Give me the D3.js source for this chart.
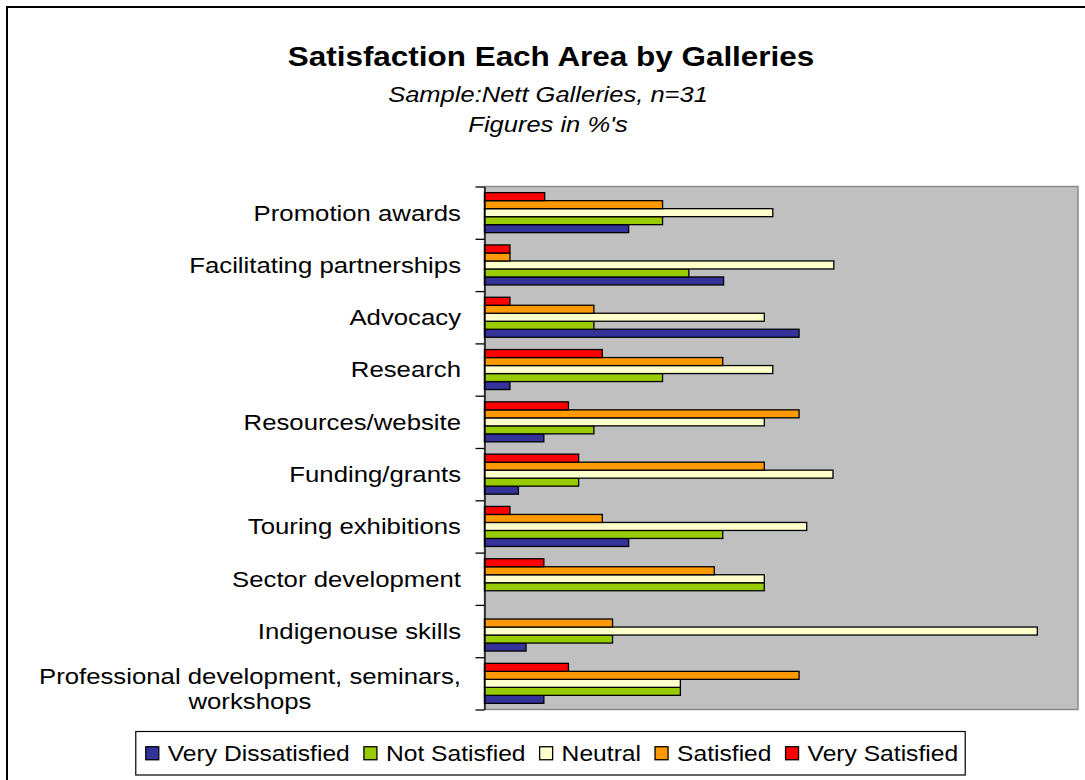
<!DOCTYPE html>
<html>
<head>
<meta charset="utf-8">
<script src="https://cdn.jsdelivr.net/npm/d3@7"></script>
<style>
  html, body { margin: 0; padding: 0; background: #fff; }
  svg { display: block; }
  text { font-family: "Liberation Sans", Arial, sans-serif; fill: #000; }
</style>
</head>
<body>
<svg id="chart" width="1085" height="780"></svg>
<script>
// Areas, listed top to bottom as they appear in the chart
const categories = [
  "Promotion awards",
  "Facilitating partnerships",
  "Advocacy",
  "Research",
  "Resources/website",
  "Funding/grants",
  "Touring exhibitions",
  "Sector development",
  "Indigenouse skills",
  "Professional development, seminars, workshops"
];

// Satisfaction levels (legend order)
const seriesNames = ["Very Dissatisfied", "Not Satisfied", "Neutral", "Satisfied", "Very Satisfied"];
const seriesColors = ["#333399", "#99CC00", "#FFFFCC", "#FF9900", "#FF0000"];

// Percent of galleries per area, one array per satisfaction level
const veryDissatisfied = [17.0, 28.2, 37.1, 3.0, 7.0, 4.0, 17.0, 0, 4.9, 7.0];
const notSatisfied     = [21.0, 24.1, 12.9, 21.0, 12.9, 11.1, 28.1, 33.0, 15.1, 23.1];
const neutral          = [34.0, 41.2, 33.0, 34.0, 33.0, 41.1, 38.0, 33.0, 65.2, 23.1];
const satisfied        = [21.0, 3.0, 12.9, 28.1, 37.1, 33.0, 13.9, 27.1, 15.1, 37.1];
const verySatisfied    = [7.1, 3.0, 3.0, 13.9, 9.9, 11.1, 3.0, 7.0, 0, 9.9];

const xMax = 70;

const title = "Satisfaction Each Area by Galleries";
const subtitleLines = ["Sample:Nett Galleries, n=31", "Figures in %'s"];

const seriesValues = [veryDissatisfied, notSatisfied, neutral, satisfied, verySatisfied];

const svg = d3.select("#chart");

// Chart frame
svg.append("rect")
  .attr("x", 7).attr("y", 7)
  .attr("width", 1090).attr("height", 790)
  .attr("fill", "#fff").attr("stroke", "#000").attr("stroke-width", 2);

// Plot area
const plot = { left: 484.5, right: 1078, top: 186.5, bottom: 709.5 };

svg.append("rect")
  .attr("x", plot.left).attr("y", plot.top)
  .attr("width", plot.right - plot.left).attr("height", plot.bottom - plot.top)
  .attr("fill", "#C0C0C0").attr("stroke", "#8a8a8a").attr("stroke-width", 1.5);

const x = d3.scaleLinear().domain([0, xMax]).range([plot.left, plot.right]);

const y0 = d3.scaleBand()
  .domain(categories)
  .range([plot.top, plot.bottom])
  .paddingInner(0.235)
  .paddingOuter(0.1175);

// Within a group the last series sits at the top
const y1 = d3.scaleBand()
  .domain(seriesNames.slice().reverse())
  .range([0, y0.bandwidth()]);

const color = d3.scaleOrdinal().domain(seriesNames).range(seriesColors);

// Bars
const rows = categories.map((c, i) => ({
  category: c,
  values: seriesNames.map((s, k) => ({ series: s, value: seriesValues[k][i] }))
}));

const groups = svg.append("g").selectAll("g")
  .data(rows)
  .join("g")
  .attr("transform", d => `translate(0,${y0(d.category)})`);

groups.selectAll("rect")
  .data(d => d.values.filter(v => v.value > 0))
  .join("rect")
  .attr("x", x(0))
  .attr("y", d => y1(d.series))
  .attr("width", d => x(d.value) - x(0))
  .attr("height", y1.bandwidth())
  .attr("fill", d => color(d.series))
  .attr("stroke", "#000")
  .attr("stroke-width", 1.3);

// Category axis: tick marks between groups
const tickScale = d3.scaleLinear().domain([0, categories.length]).range([plot.top, plot.bottom]);
const axis = svg.append("g")
  .attr("transform", `translate(${plot.left},0)`)
  .call(d3.axisLeft(tickScale)
    .tickValues(d3.range(categories.length + 1))
    .tickFormat("")
    .tickSize(9)
    .tickSizeOuter(0));
axis.selectAll("line, path").attr("stroke", "#000").attr("stroke-width", 1.3);

// Horizontally stretched text helper
function stretchedText(parent, tx, ty, str, opts) {
  const g = parent.append("g")
    .attr("transform", `translate(${tx},${ty}) scale(${opts.sx},1)`);
  const t = g.append("text")
    .attr("text-anchor", opts.anchor || "start")
    .style("font-size", opts.size + "px")
    .style("font-weight", opts.weight || "normal")
    .style("font-style", opts.style || "normal")
    .text(str);
  return t;
}

// Category labels
const labelSize = 22, labelSx = 1.17, labelMaxW = 440, lineH = 25;
const labelLayer = svg.append("g");
categories.forEach(c => {
  const cy = y0(c) + y0.bandwidth() / 2;
  // measure and wrap
  const probe = labelLayer.append("text").style("font-size", labelSize + "px");
  const words = c.split(" ");
  const lines = [];
  let cur = "";
  words.forEach(w => {
    const test = cur ? cur + " " + w : w;
    probe.text(test);
    if (probe.node().getComputedTextLength() * labelSx > labelMaxW && cur) {
      lines.push(cur);
      cur = w;
    } else {
      cur = test;
    }
  });
  lines.push(cur);
  const widths = lines.map(l => { probe.text(l); return probe.node().getComputedTextLength() * labelSx; });
  probe.remove();
  const rightX = plot.left - 23.5;
  if (lines.length === 1) {
    stretchedText(labelLayer, rightX, cy + 0.36 * labelSize, lines[0], { size: labelSize, sx: labelSx, anchor: "end" });
  } else {
    const blockW = d3.max(widths);
    const centerX = rightX - blockW / 2;
    const firstBase = cy + 0.36 * labelSize - (lines.length - 1) * lineH / 2 + 5;
    lines.forEach((l, i) => {
      stretchedText(labelLayer, centerX, firstBase + i * lineH, l, { size: labelSize, sx: labelSx, anchor: "middle" });
    });
  }
});

// Titles
const titleCx = 551;
stretchedText(svg, titleCx, 66, title, { size: 27, sx: 1.165, anchor: "middle", weight: "bold" });
subtitleLines.forEach((s, i) => {
  stretchedText(svg, titleCx - 3, 102 + i * 30, s, { size: 22, sx: 1.16, anchor: "middle", style: "italic" });
});

// Legend
const legSize = 22, legSx = 1.12, marker = 13, markerGap = 9, itemGap = 14, padL = 10, padR = 7;
const legTop = 731.5, legBottom = 775, legCx = 550.5;
const legend = svg.append("g");
const probe = legend.append("text").style("font-size", legSize + "px");
const textW = seriesNames.map(s => { probe.text(s); return probe.node().getComputedTextLength() * legSx; });
probe.remove();
const totalW = padL + padR + d3.sum(textW) + seriesNames.length * (marker + markerGap) + itemGap * (seriesNames.length - 1);
const legLeft = legCx - totalW / 2;
legend.append("rect")
  .attr("x", legLeft).attr("y", legTop)
  .attr("width", totalW).attr("height", legBottom - legTop)
  .attr("fill", "#fff").attr("stroke", "#000").attr("stroke-width", 1.2);
let cx = legLeft + padL;
const legMid = (legTop + legBottom) / 2;
seriesNames.forEach((s, i) => {
  legend.append("rect")
    .attr("x", cx).attr("y", legMid - marker / 2)
    .attr("width", marker).attr("height", marker)
    .attr("fill", color(s)).attr("stroke", "#000").attr("stroke-width", 1.3);
  cx += marker + markerGap;
  stretchedText(legend, cx, legMid + 0.36 * legSize, s, { size: legSize, sx: legSx });
  cx += textW[i] + itemGap;
});
</script>
</body>
</html>
